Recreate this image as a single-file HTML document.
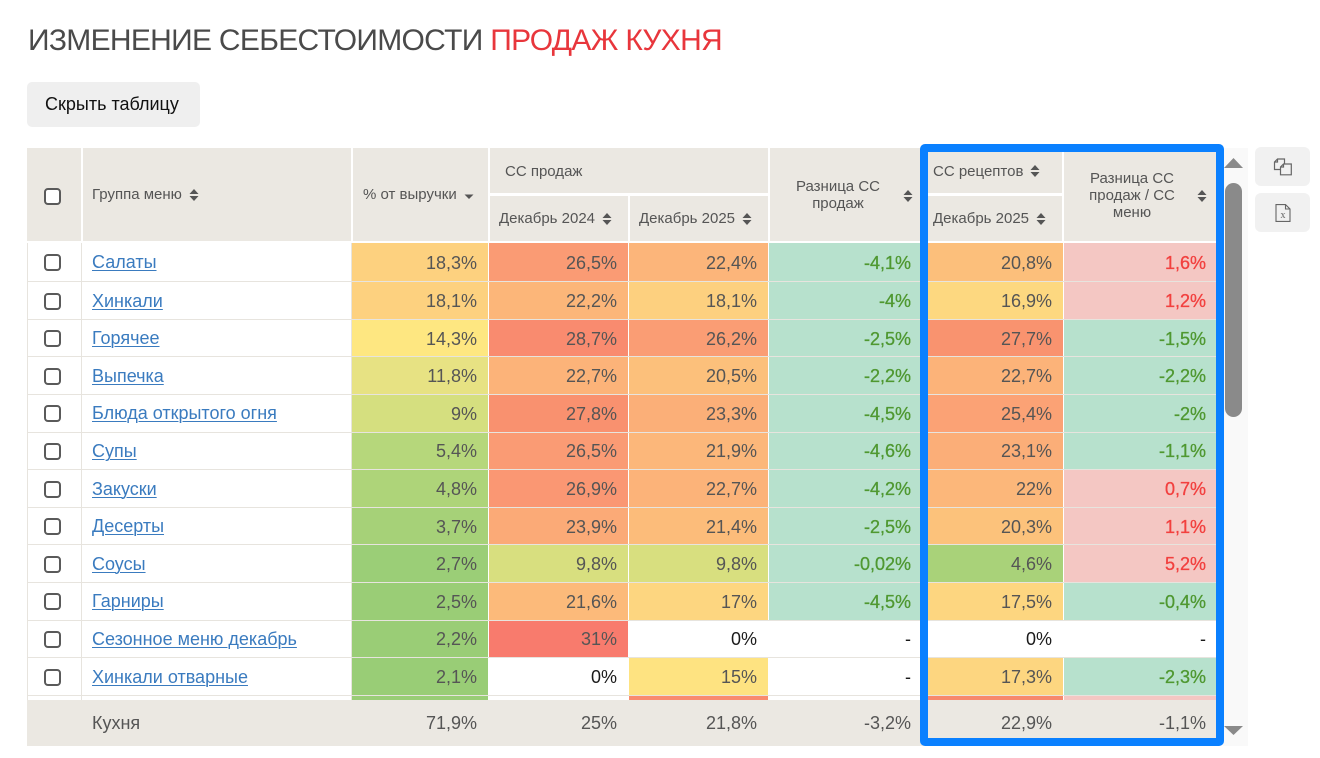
<!DOCTYPE html>
<html><head><meta charset="utf-8">
<style>
*{margin:0;padding:0;box-sizing:border-box}
html,body{width:1320px;height:758px;background:#fff;overflow:hidden;font-family:"Liberation Sans",Arial,sans-serif}
.title{position:absolute;left:28px;top:26px;font-size:30px;line-height:30px;letter-spacing:-0.7px;color:#4a4a4a;white-space:nowrap}
.title span{color:#e8363c}
.btn{position:absolute;left:27px;top:82px;width:173px;height:45px;background:#efefef;border-radius:5px;font-size:18px;color:#111;display:flex;align-items:center;padding-left:18px;padding-bottom:1px}
.h{position:absolute;background:#ebe8e2;color:#555;font-size:15px;display:flex;align-items:center;white-space:nowrap}
.si{display:inline-block;margin-left:7px;vertical-align:middle}
.cb{display:block;width:17px;height:17px;border:2px solid #5a5a5a;border-radius:4px;background:#fff}
#data{position:absolute;left:27px;top:243.3px;width:1193px;height:456.7px;overflow:hidden}
.row{position:absolute;left:0;width:1190px;height:37.6px;border-bottom:1px solid #e7e4de;background:#fff}
.row>div{position:absolute;top:0;bottom:0;display:flex;align-items:center}
.c0{left:0;width:55px;border-left:1px solid #e7e4de;border-right:1px solid #e7e4de;justify-content:flex-start;padding-left:16px;padding-top:1px}
.c1{left:55px;width:270px;border-right:1px solid #e7e4de;padding-left:10px;font-size:18px;padding-top:1px}
.c1 a{color:#3a7bbf;text-decoration:underline;text-underline-offset:2px;text-decoration-thickness:1px}
.c{justify-content:flex-end;padding-right:11px;font-size:18px;color:#555;padding-top:2px}
.k2{left:325px;width:136px}
.k3{left:462px;width:139px}
.k4{left:602px;width:139px}
.k5{left:742px;width:153px}
.k6{left:896px;width:140px}
.k7{left:1037px;width:153px}
.z{color:#1a1a1a}
.g{color:#4f9831;background:#b7e1cd;-webkit-text-stroke:0.3px #4f9831}
.r{color:#f2403f;background:#f4c7c3;-webkit-text-stroke:0.3px #f2403f}
.foot{position:absolute;left:27px;top:700px;width:1193px;height:46px;background:#ebe8e2}
.foot div{position:absolute;top:0;height:46px;display:flex;align-items:center;justify-content:flex-end;padding-right:11px;font-size:18px;color:#555;padding-top:1px}
.blue{position:absolute;left:920px;top:144px;width:304px;height:602px;border:8px solid #0a80ff;border-radius:5px}
.track{position:absolute;left:1223px;top:148px;width:25px;height:598px;background:#f9f9f9}
.thumb{position:absolute;left:1224.7px;top:182.7px;width:17.3px;height:234px;background:#8a8a8a;border-radius:9px}
.ib{position:absolute;left:1255px;width:55px;height:39px;background:#f1f1f1;border-radius:6px;display:flex;align-items:center;justify-content:center}
</style></head><body>

<div class="title">ИЗМЕНЕНИЕ СЕБЕСТОИМОСТИ <span>ПРОДАЖ КУХНЯ</span></div>
<div class="btn">Скрыть таблицу</div>

<!-- header -->
<div class="h" style="left:27px;top:147.5px;width:54px;height:93.5px;justify-content:flex-start;padding-left:17px;padding-top:4px"><i class="cb"></i></div>
<div class="h" style="left:83px;top:147.5px;width:268px;height:93.5px;padding-left:9px;padding-top:1px">Группа меню<svg class="si" width="10" height="12" viewBox="0 0 10 12"><path d="M0.5 5L5 0L9.5 5Z M0.5 7L5 12L9.5 7Z" fill="#555"/></svg></div>
<div class="h" style="left:353px;top:147.5px;width:135px;height:93.5px;padding-left:10px;padding-top:1px">% от выручки<svg class="si" width="10" height="6" viewBox="0 0 10 6" style="margin-top:4px"><path d="M0.5 0.5L5 5L9.5 0.5Z" fill="#555"/></svg></div>
<div class="h" style="left:490px;top:147.5px;width:278px;height:45.8px;padding-left:15px;padding-top:2px">СС продаж</div>
<div class="h" style="left:490px;top:195.5px;width:138px;height:45.5px;padding-left:9px;padding-top:1px">Декабрь 2024<svg class="si" width="10" height="12" viewBox="0 0 10 12"><path d="M0.5 5L5 0L9.5 5Z M0.5 7L5 12L9.5 7Z" fill="#555"/></svg></div>
<div class="h" style="left:630px;top:195.5px;width:138px;height:45.5px;padding-left:9px;padding-top:1px">Декабрь 2025<svg class="si" width="10" height="12" viewBox="0 0 10 12"><path d="M0.5 5L5 0L9.5 5Z M0.5 7L5 12L9.5 7Z" fill="#555"/></svg></div>
<div class="h" style="left:770px;top:147.5px;width:152px;height:93.5px;">
  <div style="position:absolute;left:0;width:136px;top:30px;text-align:center;line-height:17px;white-space:normal">Разница СС<br>продаж</div>
  <svg style="position:absolute;left:133px;top:42px" width="10" height="12" viewBox="0 0 10 12"><path d="M0.5 5L5 0L9.5 5Z M0.5 7L5 12L9.5 7Z" fill="#555"/></svg>
</div>
<div class="h" style="left:923px;top:147.5px;width:139px;height:45.8px;padding-left:10px;padding-top:2px">СС рецептов<svg class="si" width="10" height="12" viewBox="0 0 10 12"><path d="M0.5 5L5 0L9.5 5Z M0.5 7L5 12L9.5 7Z" fill="#555"/></svg></div>
<div class="h" style="left:923px;top:195.5px;width:139px;height:45.5px;padding-left:10px;padding-top:1px">Декабрь 2025<svg class="si" width="10" height="12" viewBox="0 0 10 12"><path d="M0.5 5L5 0L9.5 5Z M0.5 7L5 12L9.5 7Z" fill="#555"/></svg></div>
<div class="h" style="left:1064px;top:147.5px;width:153px;height:93.5px;">
  <div style="position:absolute;left:4px;width:128px;top:22px;text-align:center;line-height:17px;white-space:normal">Разница СС<br>продаж / СС<br>меню</div>
  <svg style="position:absolute;left:133px;top:42px" width="10" height="12" viewBox="0 0 10 12"><path d="M0.5 5L5 0L9.5 5Z M0.5 7L5 12L9.5 7Z" fill="#555"/></svg>
</div>

<!-- data -->
<div id="data">
<div class="row" style="top:0;height:39px"><div class="c0"><i class="cb"></i></div><div class="c1"><a>Салаты</a></div><div class="c k2" style="background:#fdd17f">18,3%</div><div class="c k3" style="background:#fa9b74">26,5%</div><div class="c k4" style="background:#fcb57a">22,4%</div><div class="c k5 g">-4,1%</div><div class="c k6" style="background:#fcbf7b">20,8%</div><div class="c k7 r">1,6%</div></div>
<div class="row" style="top:39px"><div class="c0"><i class="cb"></i></div><div class="c1"><a>Хинкали</a></div><div class="c k2" style="background:#fdd17f">18,1%</div><div class="c k3" style="background:#fcb679">22,2%</div><div class="c k4" style="background:#fdd07f">18,1%</div><div class="c k5 g">-4%</div><div class="c k6" style="background:#fdd880">16,9%</div><div class="c k7 r">1,2%</div></div>
<div class="row" style="top:76.6px"><div class="c0"><i class="cb"></i></div><div class="c1"><a>Горячее</a></div><div class="c k2" style="background:#fee781">14,3%</div><div class="c k3" style="background:#f98b6f">28,7%</div><div class="c k4" style="background:#fa9d74">26,2%</div><div class="c k5 g">-2,5%</div><div class="c k6" style="background:#f9936f">27,7%</div><div class="c k7 g">-1,5%</div></div>
<div class="row" style="top:114.2px"><div class="c0"><i class="cb"></i></div><div class="c1"><a>Выпечка</a></div><div class="c k2" style="background:#e7e283">11,8%</div><div class="c k3" style="background:#fcb379">22,7%</div><div class="c k4" style="background:#fcc07b">20,5%</div><div class="c k5 g">-2,2%</div><div class="c k6" style="background:#fcb379">22,7%</div><div class="c k7 g">-2,2%</div></div>
<div class="row" style="top:151.8px"><div class="c0"><i class="cb"></i></div><div class="c1"><a>Блюда открытого огня</a></div><div class="c k2" style="background:#d5df7f">9%</div><div class="c k3" style="background:#f9916f">27,8%</div><div class="c k4" style="background:#fbaf78">23,3%</div><div class="c k5 g">-4,5%</div><div class="c k6" style="background:#fba275">25,4%</div><div class="c k7 g">-2%</div></div>
<div class="row" style="top:189.4px"><div class="c0"><i class="cb"></i></div><div class="c1"><a>Супы</a></div><div class="c k2" style="background:#b6d77b">5,4%</div><div class="c k3" style="background:#fa9b74">26,5%</div><div class="c k4" style="background:#fcb77a">21,9%</div><div class="c k5 g">-4,6%</div><div class="c k6" style="background:#fbae78">23,1%</div><div class="c k7 g">-1,1%</div></div>
<div class="row" style="top:227px"><div class="c0"><i class="cb"></i></div><div class="c1"><a>Закуски</a></div><div class="c k2" style="background:#aed479">4,8%</div><div class="c k3" style="background:#fa9773">26,9%</div><div class="c k4" style="background:#fcb379">22,7%</div><div class="c k5 g">-4,2%</div><div class="c k6" style="background:#fcb77a">22%</div><div class="c k7 r">0,7%</div></div>
<div class="row" style="top:264.6px"><div class="c0"><i class="cb"></i></div><div class="c1"><a>Десерты</a></div><div class="c k2" style="background:#a6d178">3,7%</div><div class="c k3" style="background:#fbaa77">23,9%</div><div class="c k4" style="background:#fcbc7a">21,4%</div><div class="c k5 g">-2,5%</div><div class="c k6" style="background:#fcc27b">20,3%</div><div class="c k7 r">1,1%</div></div>
<div class="row" style="top:302.2px"><div class="c0"><i class="cb"></i></div><div class="c1"><a>Соусы</a></div><div class="c k2" style="background:#9bce77">2,7%</div><div class="c k3" style="background:#d8df7f">9,8%</div><div class="c k4" style="background:#d8df7f">9,8%</div><div class="c k5 g">-0,02%</div><div class="c k6" style="background:#a9d279">4,6%</div><div class="c k7 r">5,2%</div></div>
<div class="row" style="top:339.8px"><div class="c0"><i class="cb"></i></div><div class="c1"><a>Гарниры</a></div><div class="c k2" style="background:#9acd76">2,5%</div><div class="c k3" style="background:#fcba7a">21,6%</div><div class="c k4" style="background:#fdd680">17%</div><div class="c k5 g">-4,5%</div><div class="c k6" style="background:#fdd680">17,5%</div><div class="c k7 g">-0,4%</div></div>
<div class="row" style="top:377.4px"><div class="c0"><i class="cb"></i></div><div class="c1"><a>Сезонное меню декабрь</a></div><div class="c k2" style="background:#9acd76">2,2%</div><div class="c k3" style="background:#f87b6d">31%</div><div class="c k4 z">0%</div><div class="c k5 z">-</div><div class="c k6 z">0%</div><div class="c k7 z">-</div></div>
<div class="row" style="top:415px"><div class="c0"><i class="cb"></i></div><div class="c1"><a>Хинкали отварные</a></div><div class="c k2" style="background:#99cd76">2,1%</div><div class="c k3 z">0%</div><div class="c k4" style="background:#fee381">15%</div><div class="c k5 z">-</div><div class="c k6" style="background:#fdd680">17,3%</div><div class="c k7 g">-2,3%</div></div>
<div class="row" style="top:452.6px"><div class="c0"></div><div class="c1"></div><div class="c k2" style="background:#99cd76"></div><div class="c k4" style="background:#f98b6f"></div><div class="c k6" style="background:#f7896d"></div><div class="c k7" style="background:#f4c7c3"></div></div>
</div>

<!-- footer -->
<div class="foot">
  <div style="left:55px;justify-content:flex-start;padding-left:10px">Кухня</div>
  <div style="left:325px;width:136px">71,9%</div>
  <div style="left:462px;width:139px">25%</div>
  <div style="left:602px;width:139px">21,8%</div>
  <div style="left:742px;width:153px">-3,2%</div>
  <div style="left:896px;width:140px">22,9%</div>
  <div style="left:1037px;width:153px">-1,1%</div>
</div>

<!-- scrollbar -->
<div class="track"></div>
<svg style="position:absolute;left:1224px;top:158px" width="19" height="10" viewBox="0 0 19 10"><path d="M0 10L9.5 0L19 10Z" fill="#8a8a8a"/></svg>
<div class="thumb"></div>
<svg style="position:absolute;left:1224px;top:726px" width="19" height="9" viewBox="0 0 19 9"><path d="M0 0L9.5 9L19 0Z" fill="#8a8a8a"/></svg>

<div class="blue"></div>

<!-- right buttons -->
<div class="ib" style="top:147px">
  <svg width="20" height="18" viewBox="0 0 20 18">
    <path d="M1.5 11.5V4L4.5 1H11.5V11.5Z" fill="#f1f1f1" stroke="#666" stroke-width="1.2"/>
    <path d="M1.5 4H4.5V1" fill="none" stroke="#666" stroke-width="1.2"/>
    <path d="M7.5 16.8V9L10.5 6H18.3V16.8Z" fill="#f1f1f1" stroke="#666" stroke-width="1.2"/>
    <path d="M7.5 9H10.5V6" fill="none" stroke="#666" stroke-width="1.2"/>
  </svg>
</div>
<div class="ib" style="top:193px">
  <svg width="16" height="18" viewBox="0 0 16 18">
    <path d="M1 0.6H10.5L15 5V17.4H1Z" fill="none" stroke="#666" stroke-width="1.1"/>
    <path d="M10.5 0.6V5H15" fill="none" stroke="#666" stroke-width="1.1"/>
    <text x="8" y="14" font-family="Liberation Serif, serif" font-size="10" fill="#666" text-anchor="middle">x</text>
  </svg>
</div>

</body></html>
